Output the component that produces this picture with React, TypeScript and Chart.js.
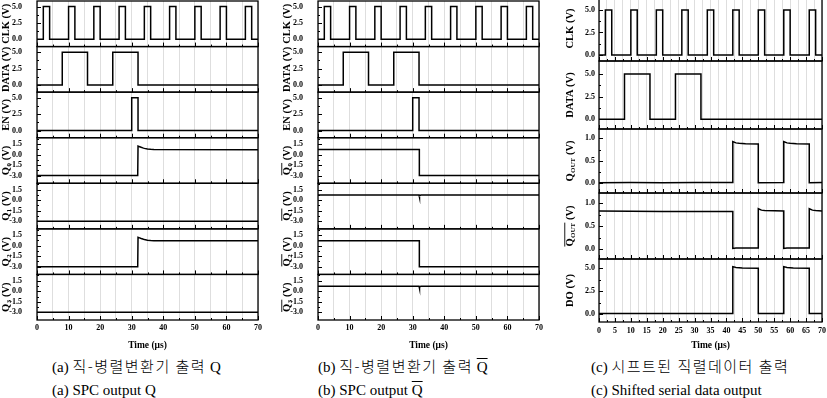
import React, { useEffect, useRef } from 'react';
import { Chart, registerables } from 'chart.js';
Chart.register(...registerables);

const SERIF = '"Liberation Serif", "Times New Roman", serif';
const KOREAN = '"Noto Sans CJK KR", "Noto Sans", sans-serif';

// ---- time axis ----
const TIME_MIN = 0;
const TIME_MAX = 70;
const AB_GRID = [0, 5, 10, 15, 20, 25, 30, 35, 40, 45, 50, 55, 60, 65, 70];
const AB_LABELS = [0, 10, 20, 30, 40, 50, 60, 70];
const C_GRID = [0, 2.5, 5, 7.5, 10, 12.5, 15, 17.5, 20, 22.5, 25, 27.5, 30, 32.5, 35, 37.5, 40, 42.5, 45, 47.5, 50, 52.5, 55, 57.5, 60, 62.5, 65, 67.5, 70];
const C_LABELS = [0, 5, 10, 15, 20, 25, 30, 35, 40, 45, 50, 55, 60, 65, 70];

// ---- y tick values ----
const V5_MAJOR = [0, 2.5, 5];
const V5_MINOR = [1.25, 3.75];
const Q_MAJOR = [-3, -1.5, 0, 1.5];
const Q_MINOR = [-2.25, -0.75, 0.75, 2.25];
const V1_MAJOR = [0, 0.5, 1];
const V1_MINOR = [0.25, 0.75];

// ---- digital edges (μs) ----
const CLK_EDGES = [2, 4, 10, 12, 18, 20, 26, 28, 34, 36, 42, 44, 50, 52, 58, 60, 66, 68];
const DATA_EDGES = [8, 16, 24, 32];
const EN_EDGES = [30, 32];
const LOGIC_LOW = 0;
const LOGIC_HIGH = 5;

// ---- SPC outputs ----
const Q_HI_T = [0, 31.9, 32, 32.5, 33, 33.5, 34, 35, 36, 37, 70];
const Q_HI_V = [-3, -3, 1.2, 1.12, 1.03, 0.95, 0.88, 0.79, 0.74, 0.71, 0.7];
const Q_LO_T = [0, 70];
const Q_LO_V = [-3, -3];
const QB_FALL_T = [0, 32.1, 32.1, 70];
const QB_FALL_V = [0.72, 0.72, -3, -3];
const QB_HOLD_T = [0, 32, 32, 32.3, 32.6, 70];
const QB_HOLD_V = [0.72, 0.72, 0.4, 0.62, 0.72, 0.72];

// ---- shifted serial output ----
const QOUT_T = [0, 10, 20, 30, 42, 42, 43, 44, 46, 50, 50, 58, 58, 59, 60, 62, 66, 66, 70];
const QOUT_V = [0.01, 0.015, 0.01, 0.015, 0.015, 0.93, 0.9, 0.89, 0.88, 0.875, 0.01, 0.015, 0.93, 0.9, 0.89, 0.88, 0.875, 0.01, 0.015];
const QBOUT_T = [0, 20, 42, 42, 43, 50, 50, 51, 52, 58, 58, 59, 66, 66, 67, 68, 70];
const QBOUT_V = [0.83, 0.82, 0.82, 0.01, 0.02, 0.02, 0.88, 0.85, 0.84, 0.83, 0.01, 0.02, 0.02, 0.88, 0.85, 0.84, 0.83];
const DO_T = [0, 42, 42, 43, 45, 50, 50, 58, 58, 59, 61, 66, 66, 70];
const DO_V = [0.05, 0.05, 5.15, 5.05, 5.0, 4.98, 0.05, 0.05, 5.15, 5.05, 5.0, 4.98, 0.05, 0.05];

function square(edges: number[], lo: number, hi: number) {
  const pts: { x: number; y: number }[] = [{ x: TIME_MIN, y: lo }];
  let level = lo;
  for (const e of edges) {
    pts.push({ x: e, y: level });
    level = level === lo ? hi : lo;
    pts.push({ x: e, y: level });
  }
  pts.push({ x: TIME_MAX, y: level });
  return pts;
}
function trace(ts: number[], vs: number[]) {
  return ts.map((t, i) => ({ x: t, y: vs[i] }));
}

type Row = {
  m: string; s?: string; bar?: boolean;
  min: number; max: number; major: number[]; minor: number[];
  data: { x: number; y: number }[]; weight: number;
};

const logicRow = (m: string, edges: number[], min: number, max: number, weight = 1): Row => ({
  m, min, max, major: V5_MAJOR, minor: V5_MINOR, data: square(edges, LOGIC_LOW, LOGIC_HIGH), weight,
});
const qRow = (s: string, bar: boolean, t: number[], v: number[]): Row => ({
  m: 'Q', s, bar, min: -4.1, max: 2.4, major: Q_MAJOR, minor: Q_MINOR, data: trace(t, v), weight: 1,
});

const PANEL_A = {
  left: 0, top: 0, w: 270, h: 352, padTop: 1, padRight: 12, yW: 37, xH: 32,
  titleX: 5.5, labelPad: 15, xLabelPad: 3, xTitlePad: 1.2, grid: AB_GRID, labels: AB_LABELS,
  rows: [
    logicRow('CLK', CLK_EDGES, -1.1, 5.85),
    logicRow('DATA', DATA_EDGES, -1.1, 5.85),
    logicRow('EN', EN_EDGES, -1.1, 5.85),
    qRow('0', false, Q_HI_T, Q_HI_V),
    qRow('1', false, Q_LO_T, Q_LO_V),
    qRow('2', false, Q_HI_T, Q_HI_V),
    qRow('3', false, Q_LO_T, Q_LO_V),
  ] as Row[],
};
const PANEL_B = {
  ...PANEL_A, left: 281,
  rows: [
    logicRow('CLK', CLK_EDGES, -1.1, 5.85),
    logicRow('DATA', DATA_EDGES, -1.1, 5.85),
    logicRow('EN', EN_EDGES, -1.1, 5.85),
    qRow('0', true, QB_FALL_T, QB_FALL_V),
    qRow('1', true, QB_HOLD_T, QB_HOLD_V),
    qRow('2', true, QB_FALL_T, QB_FALL_V),
    qRow('3', true, QB_HOLD_T, QB_HOLD_V),
  ] as Row[],
};
const PANEL_C = {
  left: 560, top: -5, w: 267, h: 357, padTop: 1, padRight: 5, yW: 39, xH: 30,
  titleX: 9.5, labelPad: 4, xLabelPad: 4, xTitlePad: 0.4, grid: C_GRID, labels: C_LABELS,
  rows: [
    logicRow('CLK', CLK_EDGES, -0.67, 6.55, 65),
    logicRow('DATA', DATA_EDGES, -1.07, 6.43, 68),
    { m: 'Q', s: 'OUT', min: -0.22, max: 1.21, major: V1_MAJOR, minor: V1_MINOR, data: trace(QOUT_T, QOUT_V), weight: 64 },
    { m: 'Q', s: 'OUT', bar: true, min: -0.22, max: 1.225, major: V1_MAJOR, minor: V1_MINOR, data: trace(QBOUT_T, QBOUT_V), weight: 66 },
    { m: 'DO', min: -0.87, max: 5.98, major: V5_MAJOR, minor: V5_MINOR, data: trace(DO_T, DO_V), weight: 63 },
  ] as Row[],
};

const TS = 10.5;
const SS = 7;

function drawTitle(ctx: CanvasRenderingContext2D, r: Row, cx: number, cy: number) {
  ctx.save();
  ctx.translate(cx, cy);
  ctx.rotate(-Math.PI / 2);
  ctx.fillStyle = '#000';
  ctx.strokeStyle = '#000';
  ctx.textAlign = 'left';
  ctx.textBaseline = 'alphabetic';
  const mainFont = `bold ${TS}px ${SERIF}`;
  const subFont = `bold ${SS}px ${SERIF}`;
  ctx.font = mainFont;
  const wM = ctx.measureText(r.m).width;
  const wT = ctx.measureText(' (V)').width;
  ctx.font = subFont;
  const wS = r.s ? ctx.measureText(r.s).width + 0.6 : 0;
  const total = wM + wS + wT;
  let x = -total / 2;
  const base = TS * 0.33;
  ctx.font = mainFont;
  ctx.fillText(r.m, x, base);
  if (r.s) {
    ctx.font = subFont;
    ctx.fillText(r.s, x + wM + 0.5, base + 2.5);
  }
  if (r.bar) {
    ctx.lineWidth = 0.9;
    ctx.beginPath();
    ctx.moveTo(x, base - TS * 0.78);
    ctx.lineTo(x + wM + wS, base - TS * 0.78);
    ctx.stroke();
  }
  x += wM + wS;
  ctx.font = mainFont;
  ctx.fillText(' (V)', x, base);
  ctx.restore();
}

function Panel({ spec }: { spec: typeof PANEL_A }) {
  const ref = useRef<HTMLCanvasElement>(null);
  useEffect(() => {
    const rows = spec.rows;
    const n = rows.length;
    const minorX = spec.grid.filter((v) => !spec.labels.includes(v));
    const scales: any = {
      x: {
        type: 'linear', position: 'bottom', min: TIME_MIN, max: TIME_MAX,
        afterBuildTicks: (s: any) => { s.ticks = spec.grid.map((v) => ({ value: v })); },
        afterFit: (s: any) => { s.height = spec.xH; s.paddingLeft = 0; s.paddingRight = 0; },
        ticks: {
          autoSkip: false, maxRotation: 0, minRotation: 0, padding: spec.xLabelPad, color: '#000',
          font: { family: SERIF, size: 8, weight: 'bold' },
          callback: (v: any) => (spec.labels.includes(Number(v)) ? String(v) : ''),
        },
        grid: { color: 'rgba(0,0,0,0.13)', lineWidth: 1, drawTicks: false },
        border: { display: false },
        title: {
          display: true, text: 'Time (μs)', color: '#000',
          font: { family: SERIF, size: 9.5, weight: 'bold' },
          padding: { top: 0, bottom: spec.xTitlePad },
        },
      },
    };
    rows.forEach((r, i) => {
      scales['y' + i] = {
        type: 'linear', position: 'left', stack: 'panel', stackWeight: r.weight, weight: n - i,
        min: r.min, max: r.max, offset: false,
        afterBuildTicks: (s: any) => { s.ticks = r.major.map((v) => ({ value: v })); },
        afterFit: (s: any) => { s.width = spec.yW; s.paddingTop = 0; s.paddingBottom = 0; },
        ticks: {
          autoSkip: false, padding: spec.labelPad, color: '#000',
          font: { family: SERIF, size: 8, weight: 'bold' },
          callback: (v: any) => Number(v).toFixed(1),
        },
        grid: { display: false, drawTicks: false },
        border: { display: false },
        title: { display: false },
      };
    });
    const frame = {
      id: 'frame',
      afterDraw(chart: any) {
        const { ctx, chartArea: ca } = chart;
        const xs = chart.scales.x;
        ctx.save();
        rows.forEach((r, i) => {
          const ys = chart.scales['y' + i];
          ctx.strokeStyle = '#000';
          ctx.lineWidth = 1;
          ctx.beginPath();
          for (const t of spec.labels) {
            const px = Math.round(xs.getPixelForValue(t)) + 0.5;
            ctx.moveTo(px, ys.bottom); ctx.lineTo(px, ys.bottom - 4);
          }
          for (const t of minorX) {
            const px = Math.round(xs.getPixelForValue(t)) + 0.5;
            ctx.moveTo(px, ys.bottom); ctx.lineTo(px, ys.bottom - 2);
          }
          for (const v of r.major) {
            const py = Math.round(ys.getPixelForValue(v)) + 0.5;
            ctx.moveTo(ca.left, py); ctx.lineTo(ca.left + 4, py);
          }
          for (const v of r.minor) {
            const py = Math.round(ys.getPixelForValue(v)) + 0.5;
            ctx.moveTo(ca.left, py); ctx.lineTo(ca.left + 2, py);
          }
          ctx.stroke();
          ctx.lineWidth = 1.3;
          ctx.strokeRect(ca.left, ys.top, ca.right - ca.left, ys.bottom - ys.top);
          drawTitle(ctx, r, spec.titleX, (ys.top + ys.bottom) / 2);
        });
        ctx.restore();
      },
    };
    const chart = new Chart(ref.current as HTMLCanvasElement, {
      type: 'line',
      data: {
        datasets: rows.map((r, i) => ({
          label: r.m + (r.s || ''),
          data: r.data,
          xAxisID: 'x',
          yAxisID: 'y' + i,
          borderColor: '#000',
          borderWidth: 1.5,
          pointRadius: 0,
          fill: false,
          tension: 0,
        })),
      },
      options: {
        responsive: false,
        maintainAspectRatio: false,
        animation: false,
        events: [],
        layout: { padding: { top: spec.padTop, right: spec.padRight, left: 0, bottom: 0 } },
        plugins: { legend: { display: false }, tooltip: { enabled: false } },
        scales,
      } as any,
      plugins: [frame],
    });
    return () => chart.destroy();
  }, [spec]);
  return (
    <canvas
      ref={ref}
      width={spec.w}
      height={spec.h}
      style={{ position: 'absolute', left: spec.left, top: spec.top, width: spec.w, height: spec.h }}
    />
  );
}

const capKo: React.CSSProperties = { position: 'absolute', top: 357, fontSize: 15, lineHeight: '18px', fontFamily: SERIF, whiteSpace: 'nowrap', color: '#000' };
const capEn: React.CSSProperties = { position: 'absolute', top: 381, fontSize: 15, lineHeight: '18px', fontFamily: SERIF, whiteSpace: 'nowrap', color: '#000' };
const ko: React.CSSProperties = { fontFamily: KOREAN, fontSize: 15, letterSpacing: '1.5px', fontWeight: 300 };
const bar: React.CSSProperties = { textDecoration: 'overline' };

export default function App() {
  return (
    <div style={{ position: 'absolute', left: 0, top: 0, width: 827, height: 398, overflow: 'hidden', background: '#fff' }}>
      <Panel spec={PANEL_A} />
      <Panel spec={PANEL_B} />
      <Panel spec={PANEL_C as any} />
      <div style={{ ...capKo, left: 52 }}>(a) <span style={ko}>직-병렬변환기 출력</span> Q</div>
      <div style={{ ...capEn, left: 52 }}>(a) SPC output Q</div>
      <div style={{ ...capKo, left: 318 }}>(b) <span style={ko}>직-병렬변환기 출력</span> <span style={bar}>Q</span></div>
      <div style={{ ...capEn, left: 318 }}>(b) SPC output <span style={bar}>Q</span></div>
      <div style={{ ...capKo, left: 591 }}>(c) <span style={ko}>시프트된 직렬데이터 출력</span></div>
      <div style={{ ...capEn, left: 591 }}>(c) Shifted serial data output</div>
    </div>
  );
}
